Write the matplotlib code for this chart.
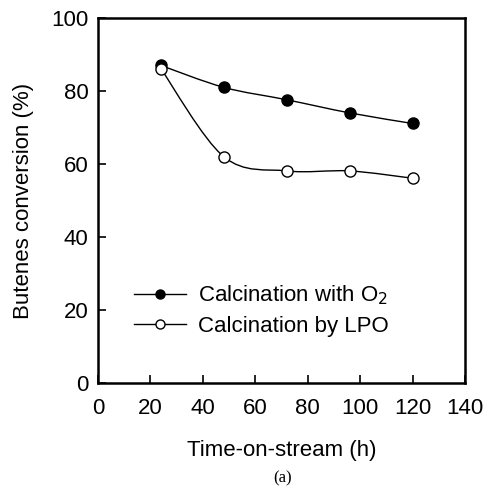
import numpy as np
import matplotlib
matplotlib.use('Agg')
import matplotlib.pyplot as plt
from matplotlib.path import Path
from matplotlib.patches import PathPatch
from matplotlib.lines import Line2D

plt.rcParams['font.family'] = ['Liberation Sans', 'DejaVu Sans']

# data
time_h = [24, 48, 72, 96, 120]
conv_o2 = [87.0, 81.0, 77.6, 74.0, 71.1]
conv_lpo = [86.1, 62.0, 58.1, 58.1, 56.1]


def smooth_path(x, y, t=0.5):
    """Catmull-Rom style bezier through the points (like a spreadsheet smoothed line)"""
    x = np.asarray(x, float)
    y = np.asarray(y, float)
    verts = [(x[0], y[0])]
    codes = [Path.MOVETO]
    n = len(x)
    for i in range(n - 1):
        x0, y0 = (x[i - 1], y[i - 1]) if i > 0 else (x[i], y[i])
        x3, y3 = (x[i + 2], y[i + 2]) if i + 2 < n else (x[i + 1], y[i + 1])
        c1 = (x[i] + (x[i + 1] - x0) * t / 3, y[i] + (y[i + 1] - y0) * t / 3)
        c2 = (x[i + 1] - (x3 - x[i]) * t / 3, y[i + 1] - (y3 - y[i]) * t / 3)
        verts += [c1, c2, (x[i + 1], y[i + 1])]
        codes += [Path.CURVE4] * 3
    return Path(verts, codes)


fig = plt.figure(figsize=(4.86, 4.86), dpi=100)
ax = fig.add_axes([98 / 486, 1 - 383 / 486, 367 / 486, 365 / 486])

for ys in (conv_o2, conv_lpo):
    ax.add_patch(PathPatch(smooth_path(time_h, ys), fill=False, lw=1.0, ec='black', zorder=2))

ax.plot(time_h, conv_o2, 'o', ms=8, mfc='black', mec='black', mew=1.0, zorder=3)
ax.plot(time_h, conv_lpo, 'o', ms=8, mfc='white', mec='black', mew=1.0, zorder=3)

ax.set_xlim(0, 140)
ax.set_ylim(0, 100)
ax.set_xticks(range(0, 141, 20))
ax.set_yticks(range(0, 101, 20))
ax.tick_params(direction='in', length=6, width=1.2, labelsize=16, colors='black')
ax.tick_params(axis='x', pad=11)
ax.tick_params(axis='y', pad=7)
for s in ax.spines.values():
    s.set_linewidth(1.8)

ax.set_xlabel('Time-on-stream (h)', fontsize=16, labelpad=15)
ax.set_ylabel('Butenes conversion (%)', fontsize=16, labelpad=12)

handles = [
    Line2D([], [], color='black', lw=1.0, marker='o', ms=6.5, mfc='black', mec='black'),
    Line2D([], [], color='black', lw=1.0, marker='o', ms=6.5, mfc='white', mec='black'),
]
ax.legend(handles, ['Calcination with O$_2$', 'Calcination by LPO'],
          loc='center left', bbox_to_anchor=(0.044, 0.199), frameon=False,
          fontsize=16, handlelength=2.34, handletextpad=0.54, labelspacing=0.4)

fig.text(283 / 486, 1 - 478 / 486, '(a)', family='Liberation Serif', fontsize=12,
         ha='center', va='center')

fig.savefig('out.png', dpi=100)
